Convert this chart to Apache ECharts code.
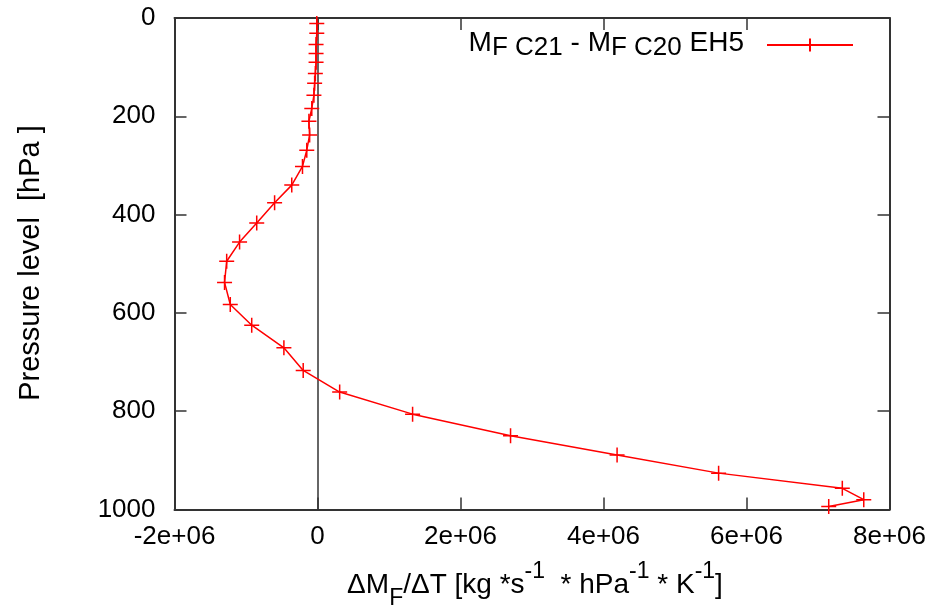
<!DOCTYPE html>
<html>
<head>
<meta charset="utf-8">
<script src="https://cdn.jsdelivr.net/npm/echarts@6/dist/echarts.min.js"></script>
<style>html,body{margin:0;padding:0;background:#fff}#c{width:941px;height:605px}</style>
</head>
<body>
<div id="c"></div>
<script>
// Pressure levels [hPa]
var pressure = [1, 11, 31, 54, 72, 90, 113, 133, 157, 184, 210, 238, 269, 302, 340, 376, 417, 456, 495, 538, 583, 625, 671, 717, 761, 806, 850, 889, 926, 957, 980, 994];
// dM_F/dT values [kg s^-1 hPa^-1 K^-1]
var dMF = [-0.01e6, -0.01e6, -0.01e6, -0.02e6, -0.02e6, -0.02e6, -0.03e6, -0.04e6, -0.05e6, -0.08e6, -0.12e6, -0.11e6, -0.15e6, -0.21e6, -0.36e6, -0.60e6, -0.85e6, -1.09e6, -1.27e6, -1.30e6, -1.22e6, -0.92e6, -0.47e6, -0.20e6, 0.31e6, 1.33e6, 2.70e6, 4.19e6, 5.61e6, 7.34e6, 7.64e6, 7.15e6];
var markVisible = [false, true, true, true, true, true, true, true, true, true, true, true, true, true, true, true, true, true, true, true, true, true, true, true, true, true, true, true, true, true, true, true];
var xTicks = [-2e6, 0, 2e6, 4e6, 6e6, 8e6];
var yTicks = [0, 200, 400, 600, 800, 1000];
var seriesName = 'MF C21 - MF C20 EH5';

var data = pressure.map(function (p, i) {
  return { value: [dMF[i], p], symbol: markVisible[i] ? 'path://M5,0L5,10M0,5L10,5' : 'none' };
});

var font = 'Liberation Sans, Arial, sans-serif';
var frameColor = '#333';
function xFmt(v) { return v === 0 ? '0' : (v / 1e6) + 'e+06'; }
function yFmt(v) { return String(v); }

var chart = echarts.init(document.getElementById('c'), null, { renderer: 'canvas' });
var axisCommon = {
  axisTick: { show: true, inside: true, length: 12, lineStyle: { color: frameColor, width: 1.5 } },
  axisLine: { show: true, onZero: false, lineStyle: { color: frameColor, width: 2 } },
  splitLine: { show: false }
};
chart.setOption({
  animation: false,
  backgroundColor: '#fff',
  grid: { left: 174.5, right: 51.5, top: 18, bottom: 95.5, containLabel: false },
  xAxis: [
    Object.assign({
      type: 'value', min: xTicks[0], max: xTicks[xTicks.length - 1], interval: 2e6, position: 'bottom',
      axisLabel: { formatter: xFmt, color: '#000', fontSize: 26, fontFamily: font, margin: 14 }
    }, axisCommon),
    Object.assign({
      type: 'value', min: xTicks[0], max: xTicks[xTicks.length - 1], interval: 2e6, position: 'top',
      axisLabel: { show: false }
    }, axisCommon)
  ],
  yAxis: [
    Object.assign({
      type: 'value', inverse: true, min: yTicks[0], max: yTicks[yTicks.length - 1], interval: 200, position: 'left',
      axisLabel: { formatter: yFmt, color: '#000', fontSize: 26, fontFamily: font, margin: 19 }
    }, axisCommon),
    Object.assign({
      type: 'value', inverse: true, min: yTicks[0], max: yTicks[yTicks.length - 1], interval: 200, position: 'right',
      axisLabel: { show: false }
    }, axisCommon)
  ],
  legend: {
    show: true,
    right: 82, top: 24,
    align: 'right',
    itemWidth: 86, itemHeight: 16,
    itemGap: 0,
    data: [seriesName],
    formatter: function () {
      return '{m|M}{s|F C21}{m| - M}{s|F C20}{m| EH5}';
    },
    textStyle: {
      fontFamily: font, color: '#000',
      rich: {
        m: { fontSize: 28, fontFamily: font, color: '#000', lineHeight: 32, verticalAlign: 'top' },
        s: { fontSize: 26, fontFamily: font, color: '#000', lineHeight: 32, verticalAlign: 'bottom' }
      },
      lineHeight: 42,
      padding: [0, 18, 0, 0]
    }
  },
  graphic: [
    {
      type: 'text', x: 31, y: 263, rotation: Math.PI / 2,
      style: { text: 'Pressure level  [hPa ]', fill: '#000', font: '29px ' + font, align: 'center', verticalAlign: 'middle' }
    },
    {
      type: 'text', x: 535, y: 585,
      style: {
        text: '{m|ΔM}{s|F}{m|/ΔT [kg *s}{u|-1}{m|  * hPa}{u|-1}{m| * K}{u|-1}{m|]}',
        align: 'center', verticalAlign: 'middle',
        rich: {
          m: { fontSize: 28, fontFamily: font, fill: '#000', lineHeight: 50, verticalAlign: 'middle' },
          s: { fontSize: 23, fontFamily: font, fill: '#000', lineHeight: 26, verticalAlign: 'bottom' },
          u: { fontSize: 23, fontFamily: font, fill: '#000', lineHeight: 26, verticalAlign: 'top' }
        }
      }
    }
  ],
  series: [{
    name: seriesName,
    type: 'line',
    xAxisIndex: 0, yAxisIndex: 0,
    data: data,
    symbol: 'path://M5,0L5,10M0,5L10,5',
    symbolSize: 15,
    showSymbol: true,
    clip: true,
    lineStyle: { color: '#ff0000', width: 1.5 },
    itemStyle: { color: '#ff0000', borderColor: '#ff0000', borderWidth: 1.5 },
    markLine: {
      silent: true, symbol: 'none', label: { show: false },
      lineStyle: { color: frameColor, width: 1.5, type: 'solid' },
      data: [{ xAxis: 0 }],
      z: 1
    },
    z: 3
  }]
});
</script>
</body>
</html>
